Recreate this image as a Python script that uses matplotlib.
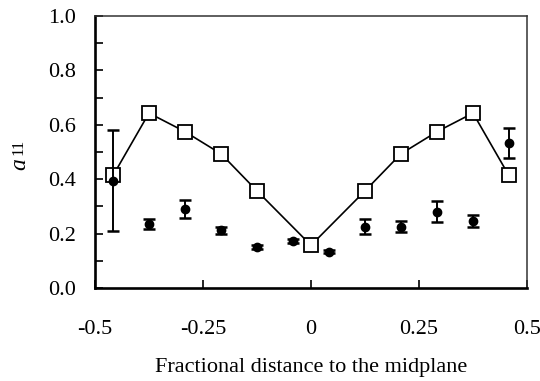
import numpy as np
import matplotlib
matplotlib.use("Agg")
import matplotlib.pyplot as plt
from matplotlib.ticker import MultipleLocator

plt.rcParams['font.family'] = ['Liberation Serif', 'DejaVu Serif']

# model curve (open squares)
x_model = [-0.458, -0.375, -0.292, -0.208, -0.125, 0.0,
           0.125, 0.208, 0.292, 0.375, 0.458]
y_model = [0.414, 0.643, 0.575, 0.493, 0.357, 0.157,
           0.357, 0.493, 0.575, 0.643, 0.414]

# measured values (filled circles with error bars)
x_meas = [-0.458, -0.375, -0.292, -0.208, -0.125, -0.042,
          0.042, 0.125, 0.208, 0.292, 0.375, 0.458]
y_meas = [0.395, 0.235, 0.289, 0.212, 0.150, 0.172,
          0.133, 0.226, 0.226, 0.281, 0.248, 0.532]
err_meas = [0.185, 0.018, 0.033, 0.014, 0.007, 0.007,
            0.006, 0.028, 0.020, 0.039, 0.022, 0.055]

xticks = [-0.5, -0.25, 0, 0.25, 0.5]
xticklabels = ['-0.5', '-0.25', '0', '0.25', '0.5']

fig = plt.figure(figsize=(5.4, 3.81), dpi=100)
ax = fig.add_axes([0.1759, 0.2441, 0.80, 0.7139])

ax.plot(x_model, y_model, color='black', lw=1.2, marker='s', ms=10.5,
        mfc='white', mec='black', mew=1.3, zorder=2)
ax.errorbar(x_meas, y_meas, yerr=err_meas, fmt='o', color='black', ms=6,
            ecolor='black', elinewidth=1.4, capsize=4.2, capthick=1.8, zorder=3)

ax.set_xlim(-0.5, 0.5)
ax.set_ylim(0, 1.0)
ax.set_xticks(xticks)
ax.set_xticklabels(xticklabels)
ax.yaxis.set_major_locator(MultipleLocator(0.2))
ax.yaxis.set_minor_locator(MultipleLocator(0.1))
ax.set_yticklabels(['%.1f' % v for v in ax.get_yticks()])

ax.tick_params(axis='both', which='both', direction='in', length=6, width=1.2,
               labelsize=16, top=False, right=False)
ax.tick_params(axis='x', pad=23)
ax.tick_params(axis='y', pad=14)

for s in ['left', 'bottom']:
    ax.spines[s].set_linewidth(1.9)
for s in ['top', 'right']:
    ax.spines[s].set_linewidth(1.1)
    ax.spines[s].set_color('#333333')

ax.set_xlabel('Fractional distance to the midplane', fontsize=16, labelpad=14)

# y label: italic a followed by smaller 11
fig.text(20 / 540, 1 - 164 / 381, 'a', fontsize=17, style='italic',
         rotation=90, ha='center', va='center')
fig.text(18 / 540, 1 - 147 / 381, '11', fontsize=12,
         rotation=90, ha='center', va='center')

fig.savefig('out.png', dpi=100)
